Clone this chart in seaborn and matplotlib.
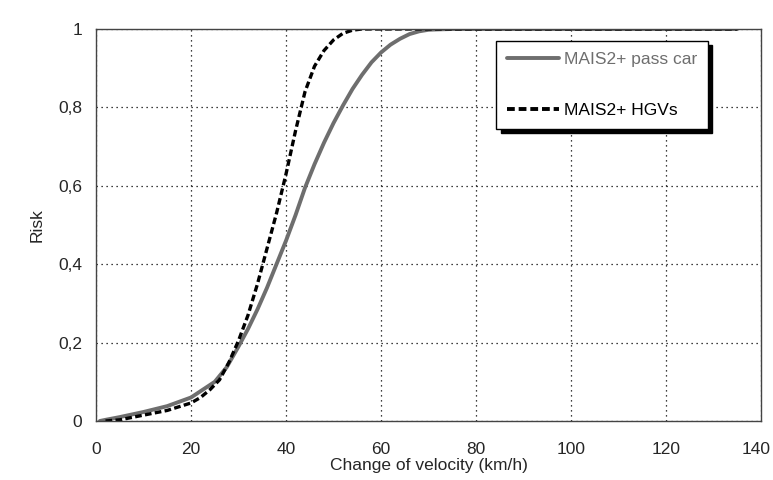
import pandas as pd
import matplotlib
matplotlib.use("Agg")
import matplotlib.pyplot as plt
import matplotlib.transforms as mtransforms
import seaborn as sns

# risk curves
car_x = [0.8, 2, 5, 10, 15, 20, 25, 27.5, 30, 32, 34, 36, 38, 40, 42, 44, 46, 48,
         50, 52, 54, 56, 58, 60, 62, 64, 66, 68, 70, 72, 75, 135]
car_risk = [0.0, 0.003, 0.01, 0.023, 0.038, 0.06, 0.1, 0.137, 0.19, 0.235, 0.285,
            0.34, 0.4, 0.46, 0.525, 0.595, 0.655, 0.71, 0.76, 0.805, 0.847, 0.883,
            0.915, 0.94, 0.96, 0.975, 0.987, 0.994, 0.998, 0.999, 1.0, 1.0]

hgv_x = [2, 5, 10, 15, 20, 22, 24, 26, 28, 30, 32, 34, 36, 38, 40, 42, 44, 46,
         48, 50, 52, 54, 56, 135]
hgv_risk = [0.0, 0.003, 0.015, 0.027, 0.046, 0.06, 0.08, 0.105, 0.15, 0.205, 0.27,
            0.35, 0.44, 0.53, 0.63, 0.74, 0.84, 0.905, 0.945, 0.972, 0.989, 0.997,
            1.0, 1.0]

labels = ["MAIS2+ pass car", "MAIS2+ HGVs"]
x_ticks = [0, 20, 40, 60, 80, 100, 120, 140]
y_ticks = [0, 0.2, 0.4, 0.6, 0.8, 1.0]
y_ticklabels = ["0", "0,2", "0,4", "0,6", "0,8", "1"]

df = pd.concat([
    pd.DataFrame({"dv": car_x, "risk": car_risk, "group": labels[0]}),
    pd.DataFrame({"dv": hgv_x, "risk": hgv_risk, "group": labels[1]}),
])

sns.set_style("white")
plt.rcParams["font.family"] = ["Liberation Sans", "DejaVu Sans"]

fig = plt.figure(figsize=(7.73, 4.8), dpi=100)
ax = fig.add_axes([0.1242, 0.1229, 0.8603, 0.8167])

sns.lineplot(data=df, x="dv", y="risk", hue="group", style="group",
             palette={labels[0]: "#6e6e6e", labels[1]: "black"},
             dashes={labels[0]: "", labels[1]: (2, 1)},
             linewidth=2.8, ax=ax, sort=False)
ax.lines[1].set_linewidth(2.4)

ax.set_xlim(0, 140)
ax.set_ylim(0, 1)
ax.set_xticks(x_ticks)
ax.set_yticks(y_ticks)
ax.set_yticklabels(y_ticklabels)
ax.tick_params(direction="in", length=4, labelsize=12.5, color="#333333")
ax.tick_params(axis="x", pad=15)
ax.tick_params(axis="y", pad=10)
ax.grid(True, color="black", linestyle=(0, (1, 3)), linewidth=0.9)
for s in ax.spines.values():
    s.set_color("#444444")
    s.set_linewidth(1.0)

# keep the last x label inside the canvas
last = ax.get_xticklabels()[-1]
last.set_transform(last.get_transform() +
                   mtransforms.ScaledTranslation(-5 / 100, 0, fig.dpi_scale_trans))

ax.set_xlabel("Change of velocity (km/h)", fontsize=12.5, labelpad=1)
ax.set_ylabel("Risk", fontsize=12.5, labelpad=10)

leg = ax.legend(loc="upper right", bbox_to_anchor=(0.920, 0.969), borderaxespad=0,
                frameon=True, fancybox=False,
                shadow={"color": "black", "alpha": 1, "ox": 3, "oy": -3},
                edgecolor="black", fontsize=12.5, labelspacing=2.1, handlelength=3.0,
                handletextpad=0.3, borderpad=0.6, labelcolor="linecolor",
                framealpha=1)
leg.get_frame().set_linewidth(1.0)

fig.savefig("out.png", dpi=100)
